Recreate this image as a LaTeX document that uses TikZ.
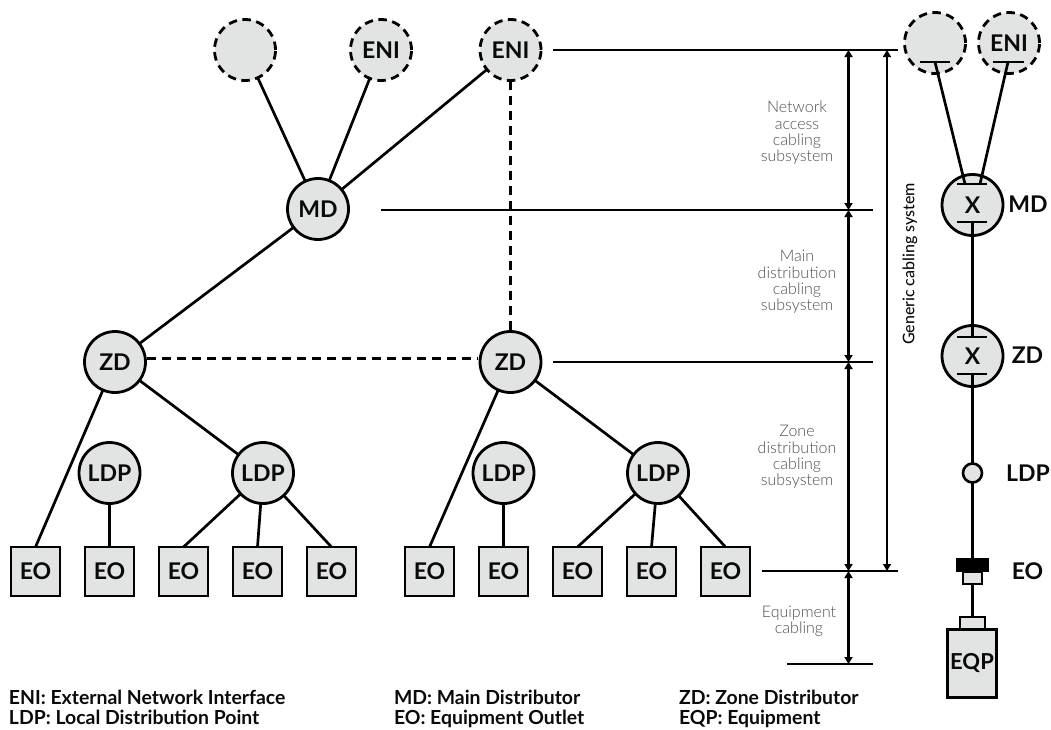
\documentclass[tikz,border=0pt]{standalone}
\usepackage{fontspec}
\usetikzlibrary{arrows.meta}
\setmainfont{Lato}
\newfontfamily\lightf{Lato Light}
\newfontfamily\medf{Lato Medium}
\definecolor{fillg}{HTML}{E2E3E3}
\definecolor{labg}{HTML}{4D4E50}
\definecolor{ink}{HTML}{0A0A0A}
\tikzset{
  x=1pt,y=-1pt,
  every node/.style={font=\fontsize{23}{27}\selectfont\bfseries,text=ink,inner sep=0pt,outer sep=0pt},
  wire/.style={draw=black,line width=2.7pt},
  dashwire/.style={wire,dash pattern=on 9pt off 6pt},
  circ/.style={circle,draw=black,fill=fillg,line width=2.8pt,minimum size=61pt},
  dashcirc/.style={circ,draw=black,dash pattern=on 8.5pt off 5.5pt},
  eobox/.style={rectangle,draw=black,fill=fillg,line width=2.6pt,minimum size=49pt},
  rule/.style={draw=black,line width=1.5pt},
  dimthick/.style={draw=black,line width=2.2pt,{Triangle[length=7pt,width=8pt]}-{Triangle[length=7pt,width=8pt]}},
  dimthin/.style={draw=black,line width=1.4pt,{Triangle[length=7pt,width=8pt]}-{Triangle[length=7pt,width=8pt]}},
  graylab/.style={font=\fontsize{16}{16.3}\selectfont\lightf,text=labg,align=center},
  legend/.style={font=\fontsize{19.4}{22}\selectfont\bfseries,anchor=base west,align=left},
  side/.style={anchor=center},
}
\begin{document}
\begin{tikzpicture}
\useasboundingbox (0,0) rectangle (1051,729);
% left tree nodes
\node[dashcirc] (enia) at (245,50) {};
\node[dashcirc] (enib) at (381,50) {ENI};
\node[dashcirc] (enic) at (510.5,50) {ENI};
\node[circ] (md) at (318,209) {MD};
\node[circ] (zda) at (115,362) {ZD};
\node[circ] (zdb) at (510.5,362) {ZD};
\node[circ] (la) at (109.5,473) {LDP};
\node[circ] (lb) at (263,473) {LDP};
\node[circ] (lc) at (503.5,473) {LDP};
\node[circ] (ld) at (658,473) {LDP};
\foreach \n/\x in {e1/35.5,e2/109.5,e3/183.5,e4/257.5,e5/331.5,e6/429.5,e7/503.5,e8/577.5,e9/651.5,e10/725.5}
  \node[eobox] (\n) at (\x,571.5) {EO};
% tree connectors
\draw[wire] (enia) -- (md);
\draw[wire] (enib) -- (md);
\draw[wire] (enic) -- (md);
\draw[wire] (md) -- (zda);
\draw[dashwire] (enic) -- (zdb);
\coordinate (dl) at (147,358.5);
\coordinate (dr) at (478,358.5);
\draw[dashwire] (dl) -- (dr);
\draw[wire] (zda) -- (e1.north);
\draw[wire] (zda) -- (lb);
\draw[wire] (la) -- (e2.north);
\draw[wire] (lb) -- (e3.north);
\draw[wire] (lb) -- (e4.north);
\draw[wire] (lb) -- (e5.north);
\draw[wire] (zdb) -- (e6.north);
\draw[wire] (zdb) -- (ld);
\draw[wire] (lc) -- (e7.north);
\draw[wire] (ld) -- (e8.north);
\draw[wire] (ld) -- (e9.north);
\draw[wire] (ld) -- (e10.north);
% horizontal rules
\coordinate (r1a) at (553,50);  \coordinate (r1b) at (898,50);
\coordinate (r2a) at (381,210); \coordinate (r2b) at (873,210);
\coordinate (r3a) at (553,362); \coordinate (r3b) at (873,362);
\coordinate (r4a) at (762,571); \coordinate (r4b) at (898,571);
\coordinate (r5a) at (787,664); \coordinate (r5b) at (873,664);
\foreach \i in {1,...,5} \draw[rule] (r\i a) -- (r\i b);
% dimension arrows
\coordinate (d1) at (848.5,50);\coordinate (d2) at (848.5,210);\coordinate (d3) at (848.5,362);\coordinate (d4) at (848.5,571);\coordinate (d5) at (848.5,664);
\draw[dimthick] (d1) -- (d2);
\draw[dimthick] (d2) -- (d3);
\draw[dimthick] (d3) -- (d4);
\draw[dimthick] (d4) -- (d5);
\coordinate (g1) at (887,50);\coordinate (g2) at (887,571);
\draw[dimthin] (g1) -- (g2);
% gray labels
\node[graylab] (t1) at (797,133) {Network\\access\\cabling\\subsystem};
\node[graylab] (t2) at (797,282) {Main\\distribution\\cabling\\subsystem};
\node[graylab] (t3) at (797,457) {Zone\\distribution\\cabling\\subsystem};
\node[graylab] (t4) at (799,621) {Equipment\\cabling};
\node[font=\fontsize{16}{18}\selectfont\medf,rotate=90] (t5) at (910,264) {Generic cabling system};
% right column
\node[dashcirc] (ra) at (935,43) {};
\node[dashcirc] (rb) at (1009,43) {ENI};
\node[circ] (rmd) at (972.5,205) {X};
\node[circ] (rzd) at (972.5,356) {X};
\node[circle,draw=black,fill=fillg,line width=2.6pt,minimum size=19pt] (rl) at (972.5,473) {};
\node[rectangle,fill=black,minimum width=33pt,minimum height=14pt] (rblk) at (972.5,565) {};
\node[rectangle,draw=black,fill=fillg,line width=2.4pt,minimum width=18.5pt,minimum height=11.5pt] (rsm) at (972.5,578) {};
\node[rectangle,draw=black,fill=fillg,line width=2.6pt,minimum width=49pt,minimum height=68pt,font=\fontsize{22}{26}\selectfont\bfseries] (req) at (972,663.5) {EQP};
\node[rectangle,draw=black,fill=fillg,line width=2.6pt,minimum width=25pt,minimum height=12pt] (rtop) at (972.5,623) {};
% bars
\coordinate (ba1) at (920,62);\coordinate (ba2) at (950,62);\coordinate (ba) at (935,62);
\coordinate (bb1) at (993,62);\coordinate (bb2) at (1024,62);\coordinate (bb) at (1008,62);
\coordinate (bc1) at (957,184);\coordinate (bc2) at (987,184);\coordinate (bcl) at (965,184);\coordinate (bcr) at (980,184);
\coordinate (bd1) at (957,222);\coordinate (bd2) at (987,222);\coordinate (bd) at (972.5,222);
\coordinate (be1) at (957,337);\coordinate (be2) at (987,337);\coordinate (be) at (972.5,337);
\coordinate (bf1) at (957,374);\coordinate (bf2) at (987,374);\coordinate (bf) at (972.5,374);
\draw[wire] (ba) -- (bcl);
\draw[wire] (bb) -- (bcr);
\draw[wire] (bd) -- (be);
\draw[wire] (bf) -- (rl);
\draw[wire] (rl) -- (rblk);
\draw[wire] (rsm) -- (rtop);
\foreach \b in {a,b,c,d,e,f} \draw[wire] (b\b1) -- (b\b2);
% side labels
\node[side] (smd) at (1028,204) {MD};
\node[side] (szd) at (1027.5,355) {ZD};
\node[side] (sl) at (1028,473) {LDP};
\node[side] (seo) at (1027.5,571) {EO};
% legend
\node[legend] (k1) at (9,704.5) {ENI: External Network Interface};
\node[legend] (k2) at (9,724) {LDP: Local Distribution Point};
\node[legend] (k3) at (394,704.5) {MD: Main Distributor};
\node[legend] (k4) at (394,724) {EO: Equipment Outlet};
\node[legend] (k5) at (679,704.5) {ZD: Zone Distributor};
\node[legend] (k6) at (679,724) {EQP: Equipment};
\end{tikzpicture}
\end{document}
